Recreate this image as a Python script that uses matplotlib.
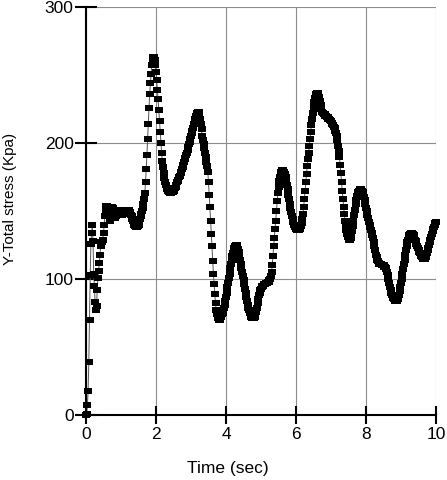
import numpy as np
import matplotlib
matplotlib.use("Agg")
import matplotlib.pyplot as plt

# sample interval of the record (sec)
dt = 0.02

# Y-total stress (kPa), one row per 0.5 s
stress = [
    0, 1, 7, 18, 39, 70, 103, 126, 134, 140, 128, 104, 95, 83, 77, 80, 92, 101, 106, 112, 118, 124, 127, 127, 129,
    134, 140, 146, 151, 154, 154, 153, 150, 146, 143, 145, 150, 153, 152, 149, 147, 146, 145, 146, 148, 150, 151, 151, 150, 148,
    147, 147, 148, 148, 149, 149, 150, 150, 151, 151, 151, 151, 150, 149, 147, 146, 144, 143, 141, 140, 139, 138, 138, 138, 139,
    140, 142, 144, 146, 148, 150, 152, 155, 159, 163, 171, 181, 191, 203, 214, 226, 236, 244, 251, 257, 261, 263, 263, 261, 257,
    252, 246, 239, 232, 224, 216, 208, 200, 193, 187, 182, 178, 174, 171, 169, 167, 166, 165, 164, 164, 163, 163, 163, 164, 164,
    165, 166, 167, 168, 169, 171, 172, 173, 175, 176, 178, 179, 181, 182, 184, 186, 188, 189, 191, 193, 195, 197, 199, 201, 203,
    205, 207, 209, 211, 214, 216, 218, 220, 221, 222, 223, 223, 221, 218, 214, 210, 205, 202, 199, 196, 193, 190, 186, 183, 179,
    171, 162, 153, 143, 133, 124, 113, 104, 96, 89, 82, 77, 74, 72, 71, 70, 70, 71, 72, 74, 75, 77, 79, 81, 84,
    87, 90, 94, 97, 101, 104, 108, 111, 114, 117, 119, 121, 123, 124, 125, 125, 124, 122, 120, 117, 114, 111, 108, 105, 102,
    99, 96, 93, 90, 87, 84, 81, 79, 77, 75, 73, 72, 71, 71, 71, 71, 72, 74, 76, 79, 82, 85, 88, 90, 92,
    93, 94, 95, 95, 96, 96, 96, 97, 97, 97, 98, 98, 99, 100, 102, 105, 110, 117, 124, 130, 137, 143, 150, 157, 163,
    168, 172, 175, 177, 179, 180, 180, 180, 179, 177, 175, 172, 169, 166, 162, 159, 155, 152, 149, 146, 144, 142, 140, 139, 138,
    137, 136, 136, 136, 136, 137, 138, 139, 141, 144, 148, 153, 159, 165, 171, 177, 183, 188, 193, 198, 203, 208, 213, 218, 222,
    226, 230, 233, 235, 236, 237, 237, 236, 234, 231, 228, 225, 223, 222, 222, 221, 221, 220, 220, 219, 219, 218, 218, 217, 217,
    216, 215, 214, 213, 212, 211, 209, 207, 205, 202, 198, 194, 190, 184, 178, 171, 165, 159, 153, 148, 143, 139, 136, 133, 131,
    130, 129, 129, 130, 132, 135, 139, 143, 147, 151, 155, 158, 161, 163, 164, 165, 166, 166, 166, 165, 164, 162, 160, 158, 155,
    152, 150, 147, 145, 142, 140, 138, 136, 134, 132, 130, 127, 124, 121, 118, 116, 114, 113, 112, 111, 111, 111, 111, 110, 110,
    110, 109, 109, 108, 107, 105, 103, 100, 97, 94, 92, 90, 88, 87, 86, 85, 85, 84, 84, 84, 85, 86, 88, 91, 94,
    97, 100, 104, 107, 111, 114, 118, 121, 124, 127, 129, 131, 132, 133, 134, 134, 134, 133, 132, 131, 129, 128, 126, 124, 123,
    121, 120, 119, 118, 117, 116, 116, 115, 115, 115, 116, 117, 119, 121, 123, 125, 127, 129, 131, 133, 135, 137, 138, 140, 141,
    142,
]
time = np.arange(len(stress)) * dt

x_ticks = [0, 2, 4, 6, 8, 10]
y_ticks = [0, 100, 200, 300]

plt.rcParams["font.family"] = ["Liberation Sans", "DejaVu Sans"]

fig = plt.figure(figsize=(4.47, 4.80), dpi=100)
ax = fig.add_axes([0.1924, 0.1354, 0.783, 0.85])

# slightly flattened square marker
rect = [(-1, -0.8), (1, -0.8), (1, 0.8), (-1, 0.8), (-1, -0.8)]
ax.plot(time, stress, color="#555555", linewidth=0.7,
        marker=rect, markersize=6.2, markerfacecolor="black",
        markeredgecolor="black", markeredgewidth=0, clip_on=False, zorder=3)

ax.set_xlim(0, 10)
ax.set_ylim(0, 300)
ax.set_xticks(x_ticks)
ax.set_yticks(y_ticks)
ax.grid(True, color="#8c8c8c", linewidth=0.8)
ax.set_axisbelow(True)

for side in ["top", "right"]:
    ax.spines[side].set_visible(False)
for side in ["left", "bottom"]:
    ax.spines[side].set_linewidth(1.5)
    ax.spines[side].set_zorder(4)

ax.tick_params(axis="x", direction="inout", length=13, width=1.5, pad=2, labelsize=12.5)
ax.tick_params(axis="y", direction="inout", length=16, width=1.5, pad=1, labelsize=12.5)

ax.set_xlabel("Time (sec)", fontsize=12.5)
ax.set_ylabel("Y-Total stress (Kpa)", fontsize=11)
ax.xaxis.set_label_coords(0.404, -0.112)
ax.yaxis.set_label_coords(-0.197, 0.53)

fig.savefig("out.png", dpi=100)
